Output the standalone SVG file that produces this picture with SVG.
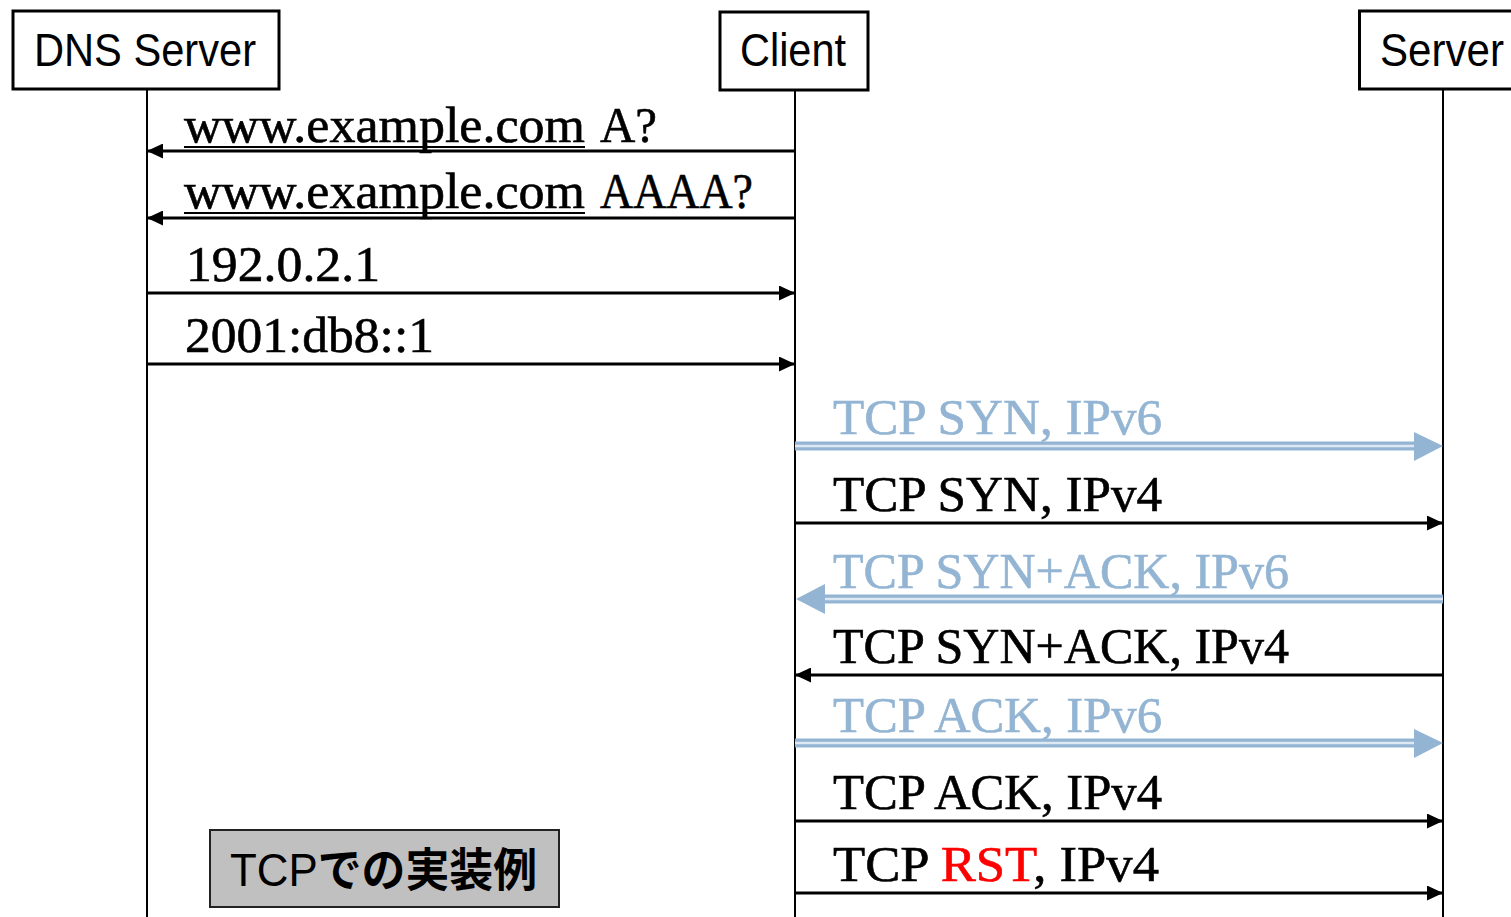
<svg xmlns="http://www.w3.org/2000/svg" width="1511" height="917" viewBox="0 0 1511 917">
<style>
.box{fill:#fff;stroke:#000;stroke-width:3}
.hdr{font-family:"Liberation Sans",Arial,sans-serif;font-size:47px;fill:#000}
.life{stroke:#000;stroke-width:2}
.msg{stroke:#000;stroke-width:3}
.lbl{font-family:"Liberation Serif","Times New Roman",serif;font-size:50px;fill:#000;stroke:#000;stroke-width:0.6}
.blue{fill:#93b5d3;stroke:#93b5d3}
.red{fill:#ff0000;stroke:#ff0000}
.bl-out{stroke:#93b5d3;stroke-width:9}
.bl-in{stroke:#dde8f2;stroke-width:2.5}
.ul{stroke:#000;stroke-width:2}
</style>
<defs>
<marker id="ah" markerWidth="16" markerHeight="15" refX="16" refY="7.5" orient="auto" markerUnits="userSpaceOnUse">
<path d="M0,0 L16,7.5 L0,15 Z" fill="#000"/>
</marker>
</defs>
<rect width="1511" height="917" fill="#fff"/>
<g id="dns">
<rect class="box" x="13" y="11" width="266" height="78"/>
<text class="hdr" x="145" y="66" text-anchor="middle" textLength="222" lengthAdjust="spacingAndGlyphs">DNS Server</text>
</g>
<g id="client">
<rect class="box" x="720" y="12" width="148" height="78"/>
<text class="hdr" x="793" y="66" text-anchor="middle" textLength="106" lengthAdjust="spacingAndGlyphs">Client</text>
</g>
<g id="server">
<rect class="box" x="1359.5" y="11" width="160" height="78"/>
<text class="hdr" x="1380" y="66" textLength="124" lengthAdjust="spacingAndGlyphs">Server</text>
</g>
<g id="lifelines">
<line class="life" x1="147" y1="89" x2="147" y2="917"/>
<line class="life" x1="795" y1="90" x2="795" y2="917"/>
<line class="life" x1="1443" y1="89" x2="1443" y2="917"/>
</g>
<g id="connectors">
<line class="msg" x1="795" y1="151" x2="147" y2="151" marker-end="url(#ah)"/>
<line class="msg" x1="795" y1="218" x2="147" y2="218" marker-end="url(#ah)"/>
<line class="msg" x1="147" y1="293" x2="795" y2="293" marker-end="url(#ah)"/>
<line class="msg" x1="147" y1="364" x2="795" y2="364" marker-end="url(#ah)"/>
<line class="bl-out" x1="795" y1="446" x2="1416" y2="446"/>
<line class="bl-in" x1="795" y1="446" x2="1416" y2="446"/>
<path d="M1414,432 L1443,446 L1414,461 Z" fill="#93b5d3"/>
<line class="msg" x1="795" y1="523" x2="1443" y2="523" marker-end="url(#ah)"/>
<line class="bl-out" x1="822" y1="599" x2="1443" y2="599"/>
<line class="bl-in" x1="822" y1="599" x2="1443" y2="599"/>
<path d="M825,584 L796,599 L825,614 Z" fill="#93b5d3"/>
<line class="msg" x1="1443" y1="675" x2="795" y2="675" marker-end="url(#ah)"/>
<line class="bl-out" x1="795" y1="743" x2="1416" y2="743"/>
<line class="bl-in" x1="795" y1="743" x2="1416" y2="743"/>
<path d="M1414,729 L1443,743 L1414,758 Z" fill="#93b5d3"/>
<line class="msg" x1="795" y1="821" x2="1443" y2="821" marker-end="url(#ah)"/>
<line class="msg" x1="795" y1="893" x2="1443" y2="893" marker-end="url(#ah)"/>
</g>
<g id="labels">
<text class="lbl" x="184" y="142" textLength="401" lengthAdjust="spacingAndGlyphs">www.example.com</text>
<line class="ul" x1="184" y1="147" x2="585" y2="147"/>
<text class="lbl" x="600" y="142" textLength="57" lengthAdjust="spacingAndGlyphs">A?</text>
<text class="lbl" x="184" y="208" textLength="401" lengthAdjust="spacingAndGlyphs">www.example.com</text>
<line class="ul" x1="184" y1="213" x2="585" y2="213"/>
<text class="lbl" x="600" y="208" textLength="153" lengthAdjust="spacingAndGlyphs">AAAA?</text>
<text class="lbl" x="186" y="281" textLength="194" lengthAdjust="spacingAndGlyphs">192.0.2.1</text>
<text class="lbl" x="185" y="352" textLength="249" lengthAdjust="spacingAndGlyphs">2001:db8::1</text>
<text class="lbl blue" x="833" y="434" textLength="329" lengthAdjust="spacingAndGlyphs">TCP SYN, IPv6</text>
<text class="lbl" x="833" y="511" textLength="329" lengthAdjust="spacingAndGlyphs">TCP SYN, IPv4</text>
<text class="lbl blue" x="833" y="588" textLength="456" lengthAdjust="spacingAndGlyphs">TCP SYN+ACK, IPv6</text>
<text class="lbl" x="833" y="663" textLength="456" lengthAdjust="spacingAndGlyphs">TCP SYN+ACK, IPv4</text>
<text class="lbl blue" x="833" y="732" textLength="329" lengthAdjust="spacingAndGlyphs">TCP ACK, IPv6</text>
<text class="lbl" x="833" y="809" textLength="329" lengthAdjust="spacingAndGlyphs">TCP ACK, IPv4</text>
<text class="lbl" x="833" y="881" textLength="326" lengthAdjust="spacingAndGlyphs">TCP <tspan class="red">RST</tspan>, IPv4</text>
</g>
<g id="note">
<rect x="210" y="830" width="349" height="77" fill="#c0c0c0" stroke="#222" stroke-width="2"/>
<text x="230" y="886" font-size="46" textLength="307" lengthAdjust="spacingAndGlyphs"><tspan font-family="'Liberation Sans','Noto Sans CJK JP',sans-serif">TCP</tspan><tspan font-family="'Noto Sans CJK JP',sans-serif" font-weight="bold">での実装例</tspan></text>
</g>
</svg>
